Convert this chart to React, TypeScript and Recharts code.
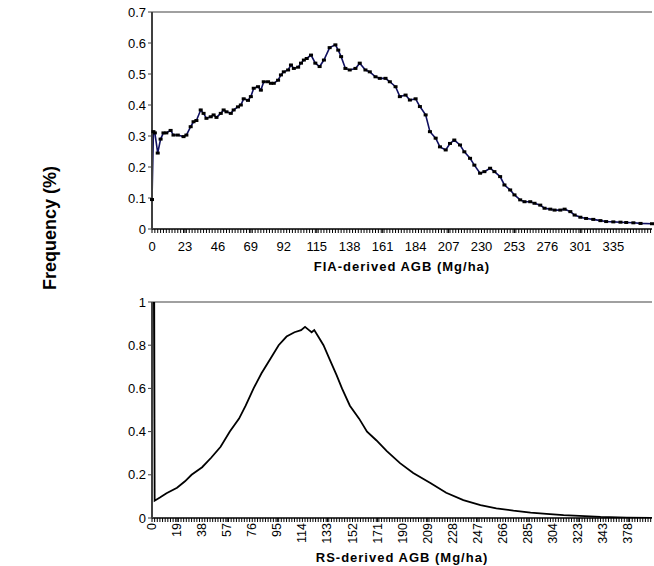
import React from "react";
import {
    LineChart,
    Line,
    XAxis,
    YAxis,
    ReferenceLine
} from "recharts";

// FIA-derived AGB: category index and frequency (%)
const fiaIndex = [
    0, 1, 2, 4, 6, 8, 10, 13, 15, 18, 22, 24, 27, 29, 31, 34, 36, 38, 41, 43,
    45, 48, 50, 52, 55, 57, 60, 62, 64, 67, 69, 71, 74, 76, 78, 81, 83, 85, 88,
    90, 92, 95, 97, 99, 102, 104, 106, 108, 111, 114, 117, 120, 124, 128, 130,
    132, 135, 138, 142, 145, 149, 152, 156, 159, 163, 166, 170, 173, 177, 180,
    184, 187, 191, 194, 198, 201, 205, 208, 211, 215, 218, 222, 225, 229, 232,
    236, 239, 243, 246, 250, 253, 257, 260, 264, 267, 271, 274, 278, 281, 285,
    288, 292, 295, 299, 303, 308, 313, 317, 322, 327, 331, 336, 341, 349
];
const fiaFreq = [
    0.095, 0.314, 0.31, 0.245, 0.29, 0.31, 0.31, 0.318, 0.303, 0.303, 0.298,
    0.303, 0.33, 0.346, 0.35, 0.384, 0.373, 0.357, 0.362, 0.368, 0.36, 0.373,
    0.384, 0.378, 0.373, 0.384, 0.394, 0.4, 0.42, 0.415, 0.427, 0.454, 0.459,
    0.448, 0.475, 0.475, 0.47, 0.47, 0.48, 0.497, 0.507, 0.513, 0.529, 0.518,
    0.522, 0.535, 0.545, 0.55, 0.561, 0.535, 0.524, 0.545, 0.585, 0.594, 0.577,
    0.556, 0.518, 0.513, 0.518, 0.535, 0.513, 0.507, 0.491, 0.486, 0.486, 0.475,
    0.459, 0.427, 0.432, 0.416, 0.42, 0.395, 0.368, 0.314, 0.293, 0.265, 0.255,
    0.276, 0.287, 0.271, 0.249, 0.228, 0.206, 0.18, 0.185, 0.196, 0.185, 0.169,
    0.142, 0.126, 0.11, 0.094, 0.088, 0.088, 0.083, 0.077, 0.067, 0.064, 0.061,
    0.061, 0.064, 0.056, 0.045, 0.038, 0.034, 0.031, 0.027, 0.024, 0.023, 0.022,
    0.021, 0.02, 0.018, 0.017
];
const fiaCount = 350;
const fiaTickIndex = [0, 23, 46, 69, 92, 115, 138, 161, 184, 207, 230, 253, 276, 299, 322];
const fiaTickLabels = ["0", "23", "46", "69", "92", "115", "138", "161", "184", "207", "230", "253", "276", "301", "335"];
const fiaYTicks = [0, 0.1, 0.2, 0.3, 0.4, 0.5, 0.6, 0.7];

// RS-derived AGB: category index and frequency (%)
const rsIndex = [
    0, 1, 2, 6, 11, 19, 25, 30, 38, 45, 52, 59, 66, 71, 77, 83, 90, 96, 102, 108,
    113, 116, 119, 121, 123, 126, 130, 135, 140, 144, 150, 157, 163, 170, 178,
    188, 198, 211, 223, 236, 249, 261, 274, 287, 299, 312, 324, 340, 360, 379
];
const rsFreq = [
    0.11, 3, 0.08, 0.095, 0.115, 0.14, 0.17, 0.2, 0.235, 0.28, 0.33, 0.4, 0.46,
    0.52, 0.6, 0.67, 0.74, 0.8, 0.84, 0.86, 0.87, 0.885, 0.87, 0.86, 0.87, 0.84,
    0.8, 0.73, 0.66, 0.6, 0.52, 0.46, 0.4, 0.36, 0.31, 0.254, 0.208, 0.162, 0.117,
    0.083, 0.06, 0.045, 0.034, 0.025, 0.019, 0.013, 0.01, 0.005, 0.002, 0.001
];
const rsCount = 380;
const rsTickIndex = [0, 19, 38, 57, 76, 95, 114, 133, 152, 171, 190, 209, 228, 247, 266, 285, 304, 323, 342, 361];
const rsTickLabels = ["0", "19", "38", "57", "76", "95", "114", "133", "152", "171", "190", "209", "228", "247", "266", "285", "304", "323", "343", "378"];
const rsYTicks = [0, 0.2, 0.4, 0.6, 0.8, 1];

const FONT = "'Liberation Sans', Arial, sans-serif";

const fiaData = fiaIndex.map((i, k) => ({ i, v: fiaFreq[k] }));
const rsData = rsIndex.map((i, k) => ({ i, v: rsFreq[k] }));

// minor tick every 2 categories, plus the labelled ones
function tickPositions(count: number, labelled: number[]) {
    const set = new Set<number>(labelled);
    for (let i = 0; i < count; i += 2) set.add(i);
    return Array.from(set).sort((a, b) => a - b);
}

function makeTick(idx: number[], labels: string[], rotated: boolean) {
    return (props: any) => {
        const { x, y, payload } = props;
        const k = idx.indexOf(payload.value);
        return (
            <g>
                <line x1={x} x2={x} y1={y} y2={y + 4} stroke="#000" strokeWidth={1} />
                {k >= 0 &&
                    (rotated ? (
                        <text
                            x={x + 4}
                            y={y + 5}
                            transform={`rotate(-90 ${x + 4} ${y + 5})`}
                            textAnchor="end"
                            fontSize={12.5}
                            fontFamily={FONT}
                            fill="#000"
                        >
                            {labels[k]}
                        </text>
                    ) : (
                        <text
                            x={x}
                            y={y + 22}
                            textAnchor="middle"
                            fontSize={13}
                            fontFamily={FONT}
                            fill="#000"
                        >
                            {labels[k]}
                        </text>
                    ))}
            </g>
        );
    };
}

// little dash marker drawn on each FIA point
const Marker = (props: any) => {
    const { cx, cy, index } = props;
    if (cx == null || cy == null) return <g key={index} />;
    return <rect key={index} x={cx - 2} y={cy - 1.5} width={4} height={3} fill="#000" />;
};

const titleStyle = {
    fontSize: 13,
    fontWeight: "bold",
    fontFamily: FONT,
    fill: "#000",
    letterSpacing: 1
};

export default function App() {
    return (
        <div
            style={{
                position: "absolute",
                left: 0,
                top: 0,
                width: 654,
                height: 566,
                background: "#fff",
                fontFamily: FONT
            }}
        >
            <div
                style={{
                    position: "absolute",
                    left: 50,
                    top: 228,
                    transform: "translate(-50%, -50%) rotate(-90deg)",
                    whiteSpace: "nowrap",
                    fontWeight: "bold",
                    fontSize: 18,
                    color: "#000"
                }}
            >
                Frequency (%)
            </div>

            <div style={{ position: "absolute", left: 0, top: 0 }}>
                <LineChart
                    width={654}
                    height={290}
                    data={fiaData}
                    margin={{ top: 12, right: 2, left: 112, bottom: 13 }}
                >
                    <XAxis
                        type="number"
                        dataKey="i"
                        domain={[0, fiaCount - 1]}
                        ticks={tickPositions(fiaCount, fiaTickIndex)}
                        interval={0}
                        tickSize={0}
                        tickMargin={0}
                        tickLine={false}
                        height={48}
                        axisLine={{ stroke: "#000", strokeWidth: 1.5 }}
                        tick={makeTick(fiaTickIndex, fiaTickLabels, false)}
                        label={{
                            value: "FIA-derived AGB (Mg/ha)",
                            position: "insideBottom",
                            offset: 6,
                            style: titleStyle
                        }}
                    />
                    <YAxis
                        type="number"
                        domain={[0, 0.7]}
                        ticks={fiaYTicks}
                        interval={0}
                        width={40}
                        tickSize={4}
                        tickMargin={2}
                        axisLine={{ stroke: "#404040", strokeWidth: 2 }}
                        tickLine={{ stroke: "#404040" }}
                        tick={{ fontSize: 13, fill: "#000", fontFamily: FONT }}
                    />
                    <ReferenceLine y={0.7} stroke="#808080" strokeWidth={1.5} />
                    <Line
                        type="linear"
                        dataKey="v"
                        stroke="#101060"
                        strokeWidth={1.6}
                        dot={<Marker />}
                        isAnimationActive={false}
                    />
                </LineChart>
            </div>

            <div style={{ position: "absolute", left: 0, top: 290 }}>
                <LineChart
                    width={654}
                    height={276}
                    data={rsData}
                    margin={{ top: 12, right: 2, left: 112, bottom: 0 }}
                >
                    <XAxis
                        type="number"
                        dataKey="i"
                        domain={[0, rsCount - 1]}
                        ticks={tickPositions(rsCount, rsTickIndex)}
                        interval={0}
                        tickSize={0}
                        tickMargin={0}
                        tickLine={false}
                        height={48}
                        axisLine={{ stroke: "#000", strokeWidth: 1.5 }}
                        tick={makeTick(rsTickIndex, rsTickLabels, true)}
                        label={{
                            value: "RS-derived AGB (Mg/ha)",
                            position: "insideBottom",
                            offset: 4,
                            style: titleStyle
                        }}
                    />
                    <YAxis
                        type="number"
                        domain={[0, 1]}
                        allowDataOverflow
                        ticks={rsYTicks}
                        interval={0}
                        width={40}
                        tickSize={4}
                        tickMargin={2}
                        axisLine={{ stroke: "#404040", strokeWidth: 2 }}
                        tickLine={{ stroke: "#404040" }}
                        tick={{ fontSize: 13, fill: "#000", fontFamily: FONT }}
                    />
                    <ReferenceLine y={1} stroke="#808080" strokeWidth={1.5} />
                    <Line
                        type="linear"
                        dataKey="v"
                        stroke="#000"
                        strokeWidth={1.8}
                        dot={false}
                        isAnimationActive={false}
                    />
                </LineChart>
            </div>
        </div>
    );
}
